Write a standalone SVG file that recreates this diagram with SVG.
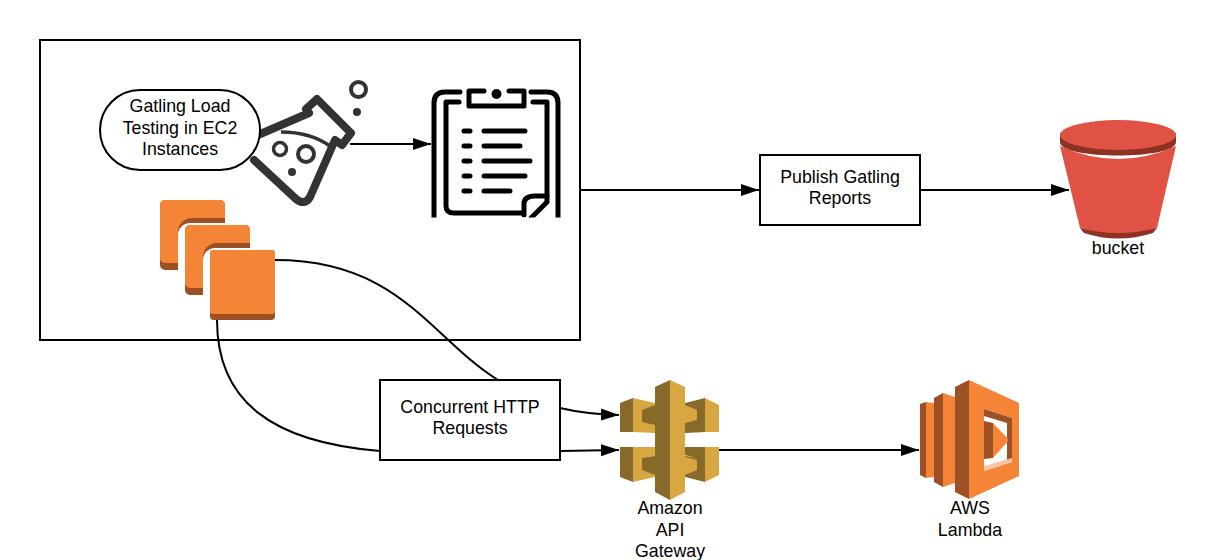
<svg xmlns="http://www.w3.org/2000/svg" width="1216" height="560" viewBox="0 0 1216 560">
<style>
text{font-family:"Liberation Sans",Arial,sans-serif;font-size:17.8px;fill:#000;text-anchor:middle}
.box{fill:#fff;stroke:#000;stroke-width:2}
.con{fill:none;stroke:#000;stroke-width:2}
.ink{fill:none;stroke:#333;stroke-width:8;stroke-linecap:round;stroke-linejoin:round}
.clip{fill:none;stroke:#000;stroke-width:5;stroke-linecap:round;stroke-linejoin:round}
.or{fill:#F58536}.ord{fill:#9D5025}
.gd{fill:#876929}.gl{fill:#D9A741}
</style>
<defs>
<marker id="arr" markerUnits="userSpaceOnUse" markerWidth="20" markerHeight="14" refX="18" refY="6" orient="auto"><path d="M0 0L18 6L0 12Z" fill="#000"/></marker>
<clipPath id="cb"><rect x="425" y="85" width="140" height="132.500"/></clipPath>
<path id="ec2d" d="M165 200H220a5 5 0 0 1 5 5V223H190a12 12 0 0 0-12 12V270H165a5 5 0 0 1-5-5V205a5 5 0 0 1 5-5Z"/>
<path id="ec2o" d="M165 200H220a5 5 0 0 1 5 5V218H192a14 14 0 0 0-14 14V263H165a5 5 0 0 1-5-5V205a5 5 0 0 1 5-5Z"/>
</defs>
<rect id="frame" x="40" y="40" width="540" height="300" fill="#fff" stroke="#000" stroke-width="2"/>
<g id="flask">
<path class="ink" d="M254 160L296 199Q305 206 310 197L335 140L342 145L351 133L317 99L306 109L309 113L258 135"/>
<path d="M281 132Q310 132 330 146" fill="none" stroke="#333" stroke-width="3.500"/>
<circle cx="280" cy="149" r="6.500" fill="none" stroke="#333" stroke-width="3.500"/>
<circle cx="306" cy="154" r="8" fill="none" stroke="#333" stroke-width="4"/>
<circle cx="292" cy="172" r="4" fill="#333"/>
<circle cx="358.500" cy="89.500" r="7.500" fill="none" stroke="#333" stroke-width="4"/>
<circle cx="357" cy="112" r="4" fill="#333"/>
</g>
<g id="gatling">
<rect class="box" x="100" y="90" width="160" height="80" rx="40"/>
<text x="180" y="112">Gatling Load</text>
<text x="180" y="134">Testing in EC2</text>
<text x="180" y="155">Instances</text>
</g>
<g id="report" clip-path="url(#cb)">
<path class="clip" d="M460 92H445Q434 92 434 103V225M531 92H547Q558 92 558 103V225"/>
<path class="clip" d="M459 102H446V206Q446 213 454 213H523M533 102H547V202L531 218"/>
<path class="clip" d="M484 91H469V106H524V91H509M547 196H535Q524 196 524 204V215"/>
<circle cx="496.500" cy="94" r="5" fill="#000"/>
<path class="clip" d="M464 131H470M484 131H525M464 146H470M484 146H520M464 161H470M484 161H530M464 176H470M484 176H525M464 191H470M484 191H510"/>
</g>
<g id="ec2-instances">
<use href="#ec2d" class="ord"/><use href="#ec2o" class="or"/>
<use href="#ec2d" class="ord" x="25" y="25"/><use href="#ec2o" class="or" x="25" y="25"/>
<rect class="ord" x="210" y="250" width="65" height="70" rx="4"/>
<rect class="or" x="210" y="250" width="65" height="64" rx="3"/>
</g>
<g id="connectors">
<path class="con" d="M350 144H431" marker-end="url(#arr)"/>
<path class="con" d="M580 190H759" marker-end="url(#arr)"/>
<path class="con" d="M920 190H1069" marker-end="url(#arr)"/>
<path class="con" d="M275 260C400 260 430 338 498 380"/>
<path class="con" d="M217 320C217 400 270 442 380 451"/>
<path class="con" d="M560 408Q585 414 619 415" marker-end="url(#arr)"/>
<path class="con" d="M560 451L619 450" marker-end="url(#arr)"/>
<path class="con" d="M717 450H919" marker-end="url(#arr)"/>
</g>
<g id="publish">
<rect class="box" x="760" y="155" width="160" height="70"/>
<text x="840" y="183">Publish Gatling</text>
<text x="840" y="204">Reports</text>
</g>
<g id="bucket">
<path fill="#E05243" d="M1060 146Q1118 172 1176 146L1157 228Q1118 240 1080 228Z"/>
<path fill="#8C3123" d="M1080 228Q1118 238 1157 228L1153 233Q1118 244 1084 233Z"/>
<path fill="#8C3123" d="M1060 133V142C1060 160 1176 160 1176 142V133Z"/>
<ellipse cx="1118" cy="135" rx="58" ry="15" fill="#E05243"/>
<text x="1118" y="254">bucket</text>
</g>
<g id="concurrent">
<rect class="box" x="380" y="380" width="180" height="80"/>
<text x="470" y="413">Concurrent HTTP</text>
<text x="470" y="434">Requests</text>
</g>
<g id="api-gateway">
<path class="gd" d="M620 403L633 398V432L620 432ZM620 447L633 447V482L620 477Z"/>
<path class="gl" d="M633 398L655 403V433L633 432ZM633 447L655 447V477L633 482Z"/>
<path class="gd" d="M642 410L655 405V425L642 422ZM642 458L655 455V475L642 470Z"/>
<path class="gd" d="M685 403L705 398V432L685 433ZM685 447L705 447V482L685 477Z"/>
<path class="gl" d="M705 398L719 405V432L705 432ZM705 447L719 447V475L705 482Z"/>
<path class="gl" d="M685 405L697 410V420L685 423ZM685 457L697 460V470L685 475Z"/>
<path fill="#F4CF85" d="M642 458L655 455H685L697 458L685 456H655Z"/>
<path class="gd" d="M655 387L670 380V500L655 492Z"/>
<path class="gl" d="M670 380L685 387V492L670 500Z"/>
<text x="670" y="514">Amazon</text>
<text x="670" y="536">API</text>
<text x="670" y="557">Gateway</text>
</g>
<g id="lambda">
<path class="ord" d="M920 404L926 402V478L920 475ZM934 398L943 393V487L934 482ZM955 387L969 380V499L955 492Z"/>
<path class="or" d="M926 402L934 403V477L926 478ZM943 393L955 397V483L943 487Z"/>
<path class="or" fill-rule="evenodd" d="M969 380L1019 403V476L969 499ZM984 409V471L1012 462V418Z"/>
<path class="ord" d="M984 409L1012 418V462L1007 462V423L984 416Z"/>
<path fill="#F9C4A0" d="M984 466L1012 458V462L984 471Z"/>
<path class="ord" d="M984 421L993 423V458L984 459Z"/>
<path class="or" d="M993 423L1009 440L993 458Z"/>
<text x="970" y="514">AWS</text>
<text x="970" y="536">Lambda</text>
</g>
</svg>
